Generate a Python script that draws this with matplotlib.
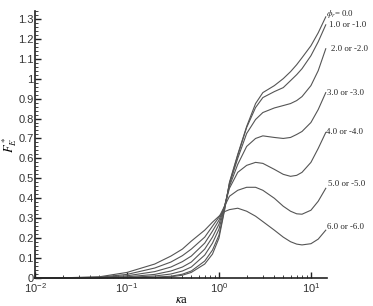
import matplotlib
matplotlib.use("Agg")
import matplotlib.pyplot as plt
from matplotlib.ticker import MultipleLocator, LogLocator, NullFormatter

plt.rcParams['font.family'] = ['Liberation Sans', 'DejaVu Sans']
plt.rcParams['mathtext.fontset'] = 'stix'

ka = [0.01, 0.02, 0.05, 0.1, 0.2, 0.3, 0.4, 0.5, 0.7, 0.85, 1.0, 1.15, 1.3,
      1.6, 2.0, 2.5, 3.0, 4.0, 5.0, 6.0, 7.0, 8.0, 10.0, 12.0, 14.5]

f_phi0 = [0, 0, 0, 0.001, 0.002, 0.006, 0.014, 0.028, 0.07, 0.12, 0.2, 0.34, 0.48,
          0.62, 0.76, 0.875, 0.93, 0.965, 1.0, 1.035, 1.07, 1.105, 1.165, 1.23, 1.31]
f_phi1 = [0, 0, 0, 0.001, 0.004, 0.009, 0.019, 0.035, 0.085, 0.14, 0.215, 0.345, 0.475,
          0.615, 0.755, 0.855, 0.905, 0.935, 0.955, 0.99, 1.02, 1.05, 1.115, 1.185, 1.27]
f_phi2 = [0, 0, 0.001, 0.003, 0.01, 0.02, 0.035, 0.055, 0.115, 0.175, 0.245, 0.355, 0.47,
          0.6, 0.725, 0.795, 0.83, 0.853, 0.865, 0.875, 0.89, 0.91, 0.965, 1.04, 1.15]
f_phi3 = [0, 0, 0.002, 0.006, 0.018, 0.035, 0.055, 0.08, 0.145, 0.205, 0.27, 0.36, 0.46,
          0.57, 0.66, 0.70, 0.713, 0.705, 0.7, 0.705, 0.72, 0.735, 0.78, 0.845, 0.93]
f_phi4 = [0, 0, 0.003, 0.011, 0.032, 0.055, 0.082, 0.11, 0.175, 0.235, 0.29, 0.36, 0.45,
          0.53, 0.565, 0.58, 0.575, 0.545, 0.52, 0.51, 0.515, 0.53, 0.58, 0.65, 0.73]
f_phi5 = [0, 0.0005, 0.004, 0.018, 0.05, 0.08, 0.112, 0.145, 0.205, 0.26, 0.305, 0.36, 0.41,
          0.44, 0.455, 0.455, 0.44, 0.4, 0.36, 0.335, 0.322, 0.32, 0.34, 0.385, 0.45]
f_phi6 = [0, 0.001, 0.006, 0.028, 0.07, 0.11, 0.145, 0.185, 0.24, 0.28, 0.31, 0.333, 0.343,
          0.35, 0.335, 0.31, 0.283, 0.24, 0.205, 0.182, 0.17, 0.166, 0.172, 0.195, 0.24]

curves = [f_phi0, f_phi1, f_phi2, f_phi3, f_phi4, f_phi5, f_phi6]
labels = [r'$\phi_r$= 0.0', '1.0 or -1.0', '2.0 or -2.0', '3.0 or -3.0',
          '4.0 or -4.0', '5.0 or -5.0', '6.0 or -6.0']
# small shift of each label from the end of its curve, in pixels
label_shift = [(0, 3), (3, 0), (5, 0), (1, 0), (0, 0), (2, 4), (1, 3)]

fig = plt.figure(figsize=(3.73, 3.06), dpi=100)
ax = fig.add_axes([0.094, 0.0915, 0.783, 0.873])

for f, lab, sh in zip(curves, labels, label_shift):
    ax.plot(ka, f, color='#555555', lw=0.8, clip_on=False)
    ax.annotate(lab, (ka[-1], f[-1]), xytext=sh, textcoords='offset pixels',
                ha='left', va='center', fontsize=6.3, family='Liberation Serif',
                color='#222222', annotation_clip=False)

ax.set_xscale('log')
ax.set_xlim(0.01, 15)
ax.set_ylim(0, 1.34)
ax.yaxis.set_minor_locator(MultipleLocator(0.02))
ax.xaxis.set_major_locator(LogLocator(base=10))
ax.xaxis.set_minor_locator(LogLocator(base=10, subs=range(2, 10)))
ax.xaxis.set_minor_formatter(NullFormatter())
ax.set_yticks([i / 10 for i in range(14)])
ax.set_yticklabels(['0', '0.1', '0.2', '0.3', '0.4', '0.5', '0.6', '0.7', '0.8',
                    '0.9', '1', '1.1', '1.2', '1.3'])

for s in ['top', 'right']:
    ax.spines[s].set_visible(False)
for s in ['left', 'bottom']:
    ax.spines[s].set_linewidth(1.2)
    ax.spines[s].set_color('#222222')

ax.tick_params(which='major', direction='in', length=4, width=1, pad=1,
               labelsize=8, labelcolor='#333333', color='#222222')
ax.tick_params(which='minor', direction='in', length=2, width=0.6, color='#222222')
ax.tick_params(axis='x', which='major', pad=2.5)

ax.set_xlabel(r'$\kappa$a', fontsize=9, family='Liberation Serif')
ax.xaxis.set_label_coords(0.503, -0.06)
ax.set_ylabel(r'$F^*_E$', fontsize=9)
ax.yaxis.set_label_coords(-0.055, 0.5)

fig.savefig('out.png', dpi=100)
